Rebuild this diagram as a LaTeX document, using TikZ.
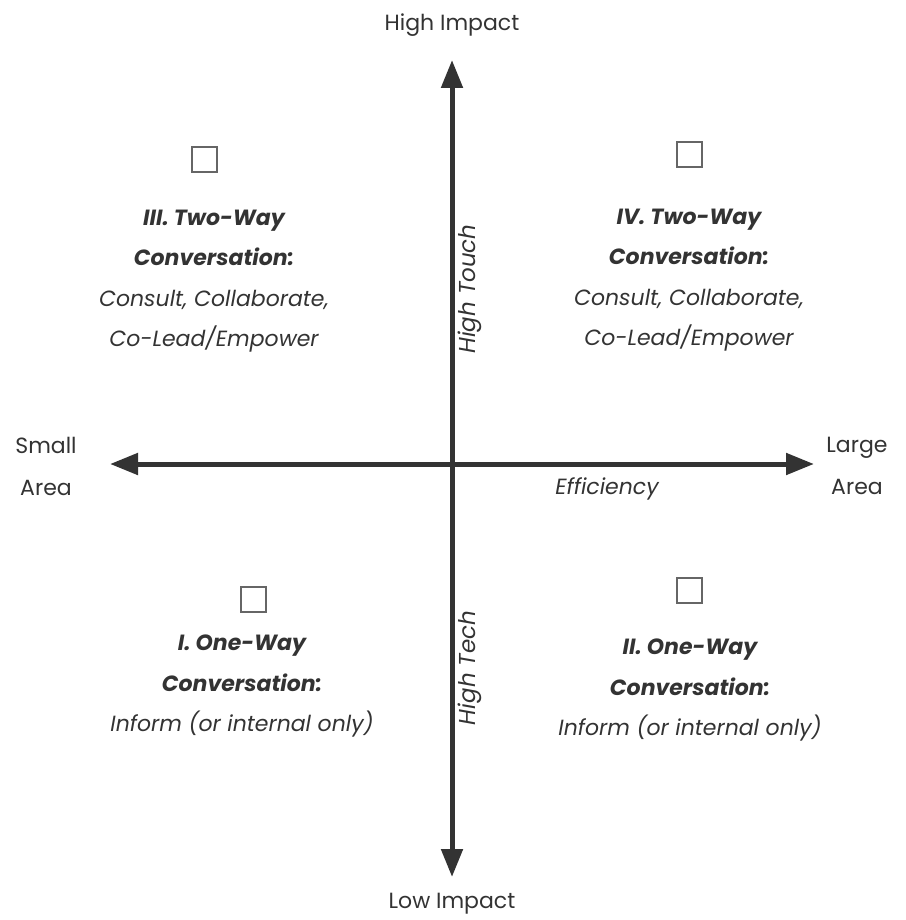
\documentclass[tikz,border=0pt]{standalone}
\usepackage{fontspec}
\setmainfont{Poppins}
\usepackage{xcolor}
\usetikzlibrary{arrows.meta,positioning}
\definecolor{AxisGray}{HTML}{333333}
\definecolor{TextGray}{HTML}{333333}
\definecolor{BoxGray}{HTML}{666666}
\tikzset{
  axis/.style={{Triangle[length=28pt,width=21pt]}-{Triangle[length=28pt,width=21pt]},line width=5pt,draw=AxisGray},
  label/.style={text=TextGray,font=\fontsize{22}{42}\selectfont,align=center,inner sep=0pt},
  body/.style={label,font=\fontsize{22}{40.5}\selectfont\itshape},
  tick/.style={draw=BoxGray,line width=2pt,minimum size=25pt,inner sep=0pt}
}
\begin{document}
\begin{tikzpicture}[x=1pt,y=-1pt]
  \useasboundingbox (0,0) rectangle (905,920);
  % axes
  \coordinate (top) at (452,60);
  \coordinate (bottom) at (452,877);
  \coordinate (left) at (110,464);
  \coordinate (right) at (814,464);
  \draw[axis] (bottom)--(top);
  \draw[axis] (left)--(right);
  % axis labels
  \node[label] (hi) at (452,25) {High Impact};
  \node[label] (lo) at (452,904) {Low Impact};
  \node[label] (small) at (46,466) {Small\\Area};
  \node[label] (large) at (857,466) {Large\\Area};
  \node[body] (eff) at (607,489) {Efficiency};
  \node[body,rotate=90,font=\fontsize{23}{40}\selectfont\itshape] (touch) at (470,289) {High Touch};
  \node[body,rotate=90,font=\fontsize{23}{40}\selectfont\itshape] (tech) at (470,668) {High Tech};
  % quadrant III
  \node[tick] (boxiii) at (204,160) {};
  \node[body] (q3) at (214,281) {{\bfseries III. Two-Way}\\{\bfseries Conversation:}\\Consult, Collaborate,\\Co-Lead/Empower};
  % quadrant IV
  \node[tick] (boxiv) at (689,155) {};
  \node[body] (q4) at (689,280) {{\bfseries IV. Two-Way}\\{\bfseries Conversation:}\\Consult, Collaborate,\\Co-Lead/Empower};
  % quadrant I
  \node[tick] (boxi) at (253,599) {};
  \node[body] (q1) at (242,686) {{\bfseries I. One-Way}\\{\bfseries Conversation:}\\Inform (or internal only)};
  % quadrant II
  \node[tick] (boxii) at (689,590) {};
  \node[body] (q2) at (690,690) {{\bfseries II. One-Way}\\{\bfseries Conversation:}\\Inform (or internal only)};
\end{tikzpicture}
\end{document}
